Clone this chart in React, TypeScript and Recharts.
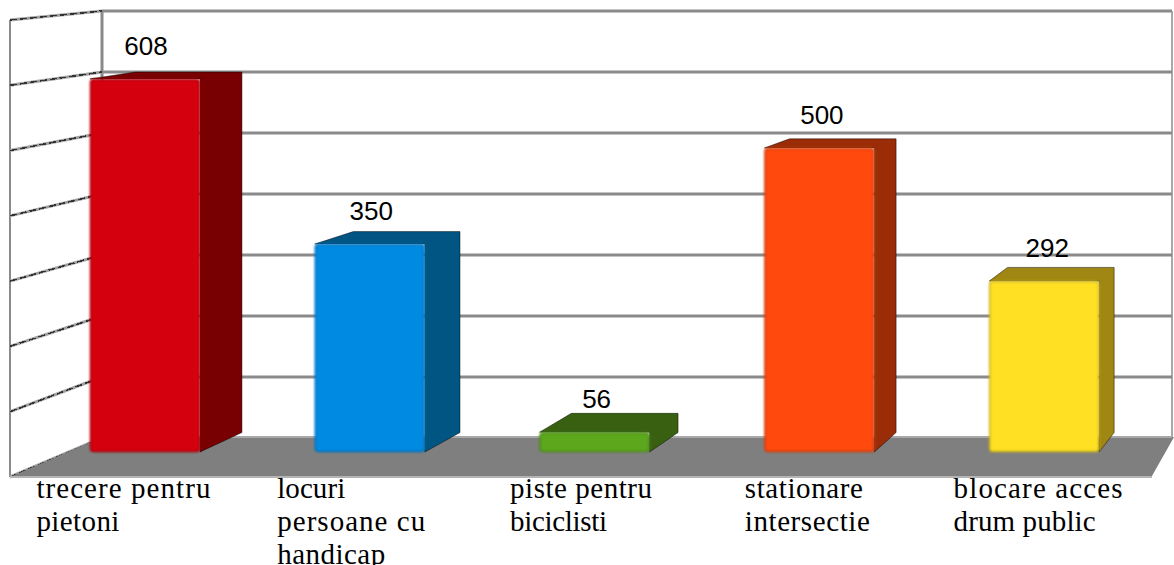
import React from 'react';
import { BarChart, Bar, XAxis, YAxis, LabelList, Cell } from 'recharts';

const categories = [
  'trecere pentru\npietoni',
  'locuri\npersoane cu\nhandicap',
  'piste pentru\nbiciclisti',
  'stationare\nintersectie',
  'blocare acces\ndrum public',
];
const counts = [608, 350, 56, 500, 292];
const wallTicks = [0, 100, 200, 300, 400, 500, 600, 700];

const frontColors = ['#d5000c', '#008ae2', '#5ba71c', '#ff4a10', '#ffe020'];
const edgeColors = ['#a8000a', '#0070b8', '#4a8a14', '#cc3a0c', '#c8b018'];
const sideColors = ['#780002', '#005582', '#386010', '#9a2d08', '#a08612'];
const labelShifts = [-53, -37, -29, -19, -35];
// the reference text is set loosely, widths of each line as they measure there
const lineWidths: Record<string, number> = {
  'trecere pentru': 174,
  pietoni: 83,
  locuri: 68,
  'persoane cu': 148,
  handicap: 108,
  'piste pentru': 142,
  biciclisti: 97,
  stationare: 118,
  intersectie: 125,
  'blocare acces': 169,
  'drum public': 142,
};

const chartData = categories.map((name, i) => ({ name, count: counts[i] }));

const W = 1174;
const H = 565;

// perspective of the bar depth, everything shrinks towards this point
const VP_X = 1598;
const VP_Y = -121;
const DEPTH_X = 0.03;
const DEPTH_Y = 0.034;
const back = (x: number, y: number) => [x + (VP_X - x) * DEPTH_X, y + (VP_Y - y) * DEPTH_Y];

const wallBack = (v: number) => 438 - (v / 700) * 427;
const wallFront = (v: number) => 477 - (v / 700) * 457;

const Room = () => (
  <g>
    <line x1={10} y1={20} x2={10} y2={477} stroke="#8a8a8a" strokeWidth={2} />
    <line x1={102} y1={11} x2={102} y2={437} stroke="#8a8a8a" strokeWidth={3} />
    <line x1={1172} y1={11} x2={1172} y2={437} stroke="#a8a8a8" strokeWidth={2} />
    {wallTicks.map((v) => (
      <g key={v}>
        <line x1={102} y1={wallBack(v)} x2={1172} y2={wallBack(v)} stroke="#8a8a8a" strokeWidth={3} />
        <line x1={10} y1={wallFront(v)} x2={102} y2={wallBack(v)} stroke="#a0a0a0" strokeWidth={3} />
        <line
          x1={10}
          y1={wallFront(v)}
          x2={102}
          y2={wallBack(v)}
          stroke="#333"
          strokeWidth={1.5}
          strokeDasharray="7 3"
          shapeRendering="crispEdges"
        />
      </g>
    ))}
    <polygon points="10,477 102,437 1174,437 1152,476" fill="#7f7f7f" />
    <line x1={102} y1={437} x2={1172} y2={437} stroke="#a8a8a8" strokeWidth={2} />
    <line x1={10} y1={477} x2={1152} y2={477} stroke="#b4b4b4" strokeWidth={2} />
  </g>
);

const Bar3D = (props: any) => {
  const { x, y, width, height, index } = props;
  const right = x + width;
  const bottom = y + height;
  const [bx, topY] = back(right, y);
  const [lx] = back(x, y);
  const [, bottomY] = back(right, bottom);
  const dark = sideColors[index];
  return (
    <g>
      <polygon
        points={`${x},${y} ${lx},${topY} ${bx},${topY} ${bx},${bottomY} ${right},${bottom} ${right},${y}`}
        fill={dark}
        stroke="#000"
        strokeOpacity={0.45}
        strokeWidth={1}
        strokeLinejoin="round"
      />
      <g filter="url(#soft)">
        <rect
          x={x + 0.5}
          y={y + 0.5}
          width={width - 1}
          height={height - 1}
          rx={3}
          fill={frontColors[index]}
          stroke={edgeColors[index]}
          strokeWidth={1.5}
        />
      </g>
    </g>
  );
};

const CountLabel = (props: any) => {
  const { x, y, width, value, index } = props;
  return (
    <text
      x={x + width / 2 + 1 + index * 0.5}
      y={y - 33}
      textAnchor="middle"
      dominantBaseline="central"
      fontFamily="'Liberation Sans', Arial, sans-serif"
      fontSize={26}
      fill="#000"
    >
      {value}
    </text>
  );
};

const CategoryTick = (props: any) => {
  const { x, y, index, payload } = props;
  const startX = x - 56 + labelShifts[index];
  return (
    <g>
      {String(payload.value)
        .split('\n')
        .map((line, i) => (
          <text
            key={line}
            x={startX}
            y={y + 46 + i * 33}
            fontFamily="'Liberation Serif', 'Times New Roman', serif"
            fontSize={29}
            textLength={lineWidths[line]}
            lengthAdjust="spacing"
            fill="#000"
          >
            {line}
          </text>
        ))}
    </g>
  );
};

const App = () => (
  <div style={{ position: 'absolute', left: 0, top: 0, width: W, height: H, overflow: 'hidden', background: '#fff' }}>
    <BarChart width={W} height={H} data={chartData} margin={{ top: 4, right: 17, bottom: 0, left: 33 }}>
      <defs>
        <filter id="soft" x="-10%" y="-10%" width="120%" height="120%">
          <feGaussianBlur stdDeviation="0.8" />
        </filter>
      </defs>
      <Room />
      <XAxis
        dataKey="name"
        axisLine={false}
        tickLine={false}
        tickSize={0}
        tickMargin={0}
        height={113}
        interval={0}
        tick={<CategoryTick />}
      />
      <YAxis hide domain={[25, 725]} />
      <Bar dataKey="count" barSize={110} isAnimationActive={false} shape={<Bar3D />}>
        {chartData.map((d, i) => (
          <Cell key={d.name} fill={frontColors[i]} />
        ))}
        <LabelList dataKey="count" content={<CountLabel />} />
      </Bar>
    </BarChart>
  </div>
);

export default App;
